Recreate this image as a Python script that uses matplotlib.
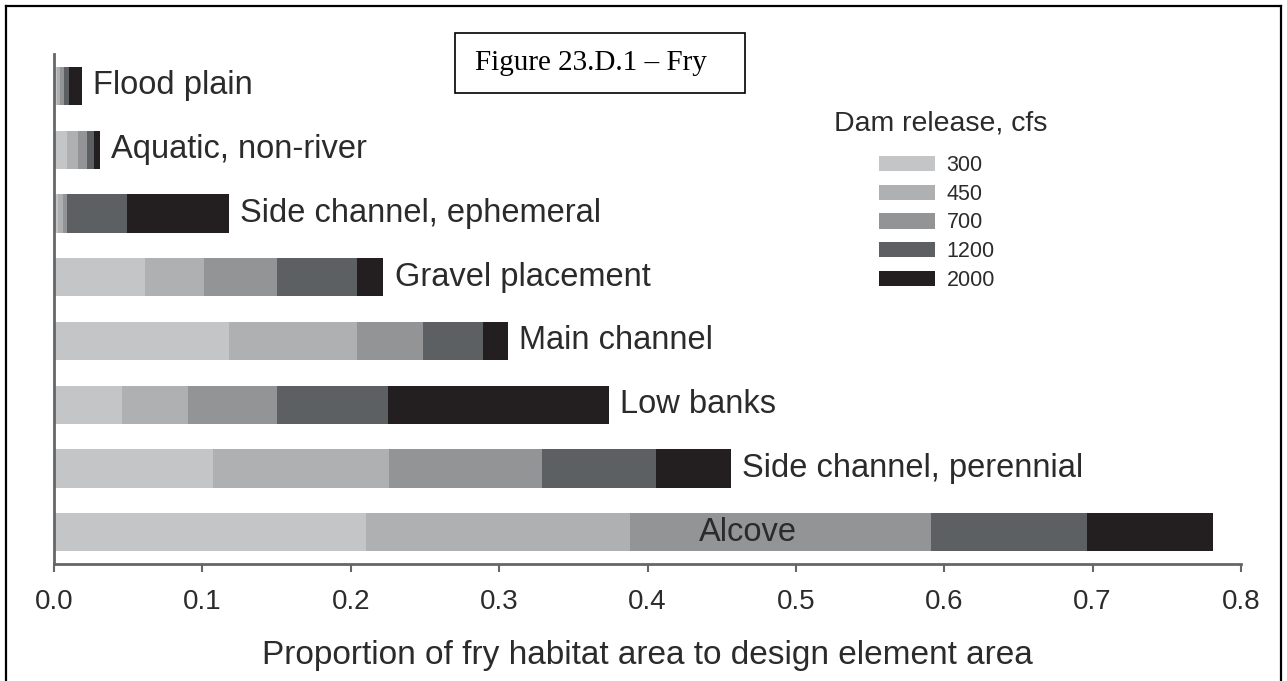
import numpy as np
import matplotlib.pyplot as plt
from matplotlib.lines import Line2D
from matplotlib.patches import Rectangle

plt.rcParams['font.family'] = ['Liberation Sans', 'DejaVu Sans']

# design elements, top to bottom
categories = ['Flood plain', 'Aquatic, non-river', 'Side channel, ephemeral',
              'Gravel placement', 'Main channel', 'Low banks',
              'Side channel, perennial', 'Alcove']
releases = ['300', '450', '700', '1200', '2000']

# proportion of fry habitat area added at each dam release (cfs)
q300 = [0.002, 0.009, 0.003, 0.061, 0.118, 0.046, 0.107, 0.210]
q450 = [0.002, 0.007, 0.003, 0.040, 0.086, 0.044, 0.119, 0.178]
q700 = [0.003, 0.006, 0.003, 0.049, 0.045, 0.060, 0.103, 0.203]
q1200 = [0.003, 0.005, 0.040, 0.054, 0.040, 0.075, 0.077, 0.105]
q2000 = [0.009, 0.004, 0.069, 0.018, 0.017, 0.149, 0.050, 0.085]

colors = ['#c3c5c7', '#aeb0b2', '#929496', '#5d6062', '#231f20']
txt = '#2b2b2b'
W, H = 1287, 681

fig = plt.figure(figsize=(W / 100, H / 100), dpi=100)
ax = fig.add_axes([54/W, 117/H, 1187/W, 510/H])

ypos = np.arange(len(categories))
left = np.zeros(len(categories))
for name, vals, c in zip(releases, [q300, q450, q700, q1200, q2000], colors):
    ax.barh(ypos, vals, left=left, height=0.6, color=c, label=name)
    left += np.array(vals)

# element names next to the bars (Alcove sits inside its bar)
for i, cat in enumerate(categories):
    if cat == 'Alcove':
        ax.text(0.468, ypos[i], cat, ha='center', va='center', fontsize=23.5, color=txt)
    else:
        ax.annotate(cat, (left[i], ypos[i]), xytext=(8, 0), textcoords='offset points',
                    ha='left', va='center', fontsize=23.5, color=txt)

ax.set_ylim(len(categories) - 0.5, -0.5)
ax.set_xlim(0, 0.8)
ax.set_xticks(np.arange(0, 0.81, 0.1))
ax.set_xticklabels(['%.1f' % v for v in np.arange(0, 0.81, 0.1)])
ax.set_yticks([])
ax.tick_params(axis='x', direction='out', length=6, width=1.5, color='#666666',
               labelsize=20, labelcolor=txt, pad=12)
for s in ['top', 'right']:
    ax.spines[s].set_visible(False)
for s in ['left', 'bottom']:
    ax.spines[s].set_color('#666666')
    ax.spines[s].set_linewidth(2)
ax.set_xlabel('Proportion of fry habitat area to design element area',
              fontsize=24, color=txt, labelpad=18)

# legend: title drawn on its own so it can sit higher above the swatches
fig.text(941/W, 1 - 123/H, 'Dam release, cfs', fontsize=20.5, color=txt,
         ha='center', va='center')
leg = ax.legend(loc='center', bbox_to_anchor=(937/W, 1 - 223/H),
                bbox_transform=fig.transFigure, frameon=False, fontsize=15.5,
                handlelength=2.6, handleheight=0.7,
                labelspacing=0.36, handletextpad=0.55, borderpad=0)
for t in leg.get_texts():
    t.set_color(txt)

# figure caption box
fig.add_artist(Rectangle((455/W, 1 - 93/H), 290/W, 60/H, transform=fig.transFigure,
                         fc='white', ec='black', lw=1.2))
fig.text(475/W, 1 - 63/H, 'Figure 23.D.1 \u2013 Fry', family='Liberation Serif',
         fontsize=21, ha='left', va='center', color='black')

# outer frame (open at the bottom)
for xs, ys in [([6, 6], [0, 675]), ([6, 1281], [675, 675]), ([1281, 1281], [0, 675])]:
    fig.add_artist(Line2D(np.array(xs) / W, np.array(ys) / H, color='black', lw=1.6))

fig.savefig('out.png', dpi=100)
